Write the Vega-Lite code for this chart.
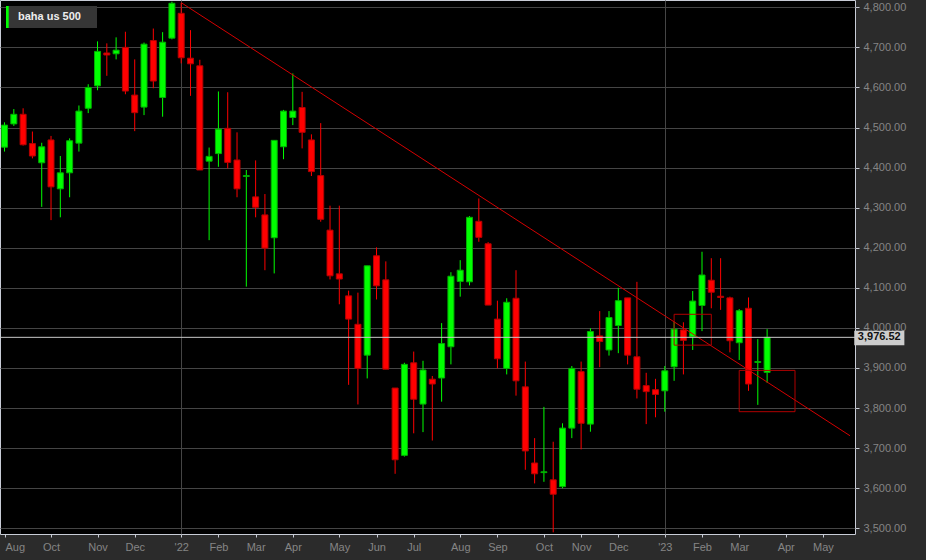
{
  "$schema": "https://vega.github.io/schema/vega-lite/v6.json",
  "width": 855,
  "height": 534,
  "autosize": {"type": "none"},
  "padding": {"left": 0, "top": 0, "right": 71, "bottom": 26},
  "background": "#2b2b2b",
  "config": {
    "view": {"fill": "#000000", "stroke": "#c8ccd6", "strokeWidth": 1},
    "axis": {"labelFont": "Liberation Sans", "labelFontSize": 11, "labelColor": "#858585", "tickColor": "#c8ccd6", "domain": false},
    "text": {"font": "Liberation Sans"}
  },
  "datasets": {
    "candles": [
      {"date": "2021-08-27", "open": 4451, "high": 4513, "low": 4440, "close": 4506},
      {"date": "2021-09-03", "open": 4509, "high": 4546, "low": 4504, "close": 4533},
      {"date": "2021-09-10", "open": 4533, "high": 4548, "low": 4455, "close": 4457},
      {"date": "2021-09-17", "open": 4460, "high": 4490, "low": 4423, "close": 4429},
      {"date": "2021-09-24", "open": 4412, "high": 4462, "low": 4302, "close": 4452},
      {"date": "2021-10-01", "open": 4469, "high": 4479, "low": 4269, "close": 4352},
      {"date": "2021-10-08", "open": 4347, "high": 4429, "low": 4276, "close": 4387},
      {"date": "2021-10-15", "open": 4387, "high": 4473, "low": 4326, "close": 4467},
      {"date": "2021-10-22", "open": 4461, "high": 4555, "low": 4440, "close": 4541},
      {"date": "2021-10-29", "open": 4548, "high": 4608, "low": 4536, "close": 4600},
      {"date": "2021-11-05", "open": 4604, "high": 4715, "low": 4593, "close": 4690},
      {"date": "2021-11-12", "open": 4686, "high": 4710, "low": 4629, "close": 4681},
      {"date": "2021-11-19", "open": 4684, "high": 4725, "low": 4670, "close": 4693},
      {"date": "2021-11-26", "open": 4700, "high": 4739, "low": 4583, "close": 4591},
      {"date": "2021-12-03", "open": 4581, "high": 4670, "low": 4491, "close": 4537},
      {"date": "2021-12-10", "open": 4551, "high": 4712, "low": 4531, "close": 4708},
      {"date": "2021-12-17", "open": 4717, "high": 4747, "low": 4598, "close": 4616},
      {"date": "2021-12-24", "open": 4575, "high": 4738, "low": 4527, "close": 4713},
      {"date": "2021-12-31", "open": 4723, "high": 4814, "low": 4720, "close": 4810},
      {"date": "2022-01-07", "open": 4785, "high": 4811, "low": 4660, "close": 4674},
      {"date": "2022-01-14", "open": 4673, "high": 4743, "low": 4579, "close": 4659},
      {"date": "2022-01-21", "open": 4654, "high": 4669, "low": 4394, "close": 4394},
      {"date": "2022-01-28", "open": 4416, "high": 4450, "low": 4219, "close": 4428},
      {"date": "2022-02-04", "open": 4435, "high": 4590, "low": 4402, "close": 4496},
      {"date": "2022-02-11", "open": 4498, "high": 4588, "low": 4398, "close": 4413},
      {"date": "2022-02-18", "open": 4419, "high": 4488, "low": 4326, "close": 4347},
      {"date": "2022-02-25", "open": 4378, "high": 4394, "low": 4103, "close": 4380},
      {"date": "2022-03-04", "open": 4327, "high": 4418, "low": 4276, "close": 4301},
      {"date": "2022-03-11", "open": 4282, "high": 4334, "low": 4144, "close": 4199},
      {"date": "2022-03-18", "open": 4225, "high": 4468, "low": 4136, "close": 4468},
      {"date": "2022-03-25", "open": 4452, "high": 4544, "low": 4421, "close": 4541},
      {"date": "2022-04-01", "open": 4525, "high": 4635, "low": 4506, "close": 4541},
      {"date": "2022-04-08", "open": 4550, "high": 4589, "low": 4448, "close": 4488},
      {"date": "2022-04-15", "open": 4469, "high": 4483, "low": 4379, "close": 4390},
      {"date": "2022-04-22", "open": 4380, "high": 4511, "low": 4265, "close": 4271},
      {"date": "2022-04-29", "open": 4244, "high": 4305, "low": 4121, "close": 4130},
      {"date": "2022-05-06", "open": 4135, "high": 4305, "low": 4059, "close": 4122},
      {"date": "2022-05-13", "open": 4080, "high": 4093, "low": 3858, "close": 4022},
      {"date": "2022-05-20", "open": 4009, "high": 4088, "low": 3809, "close": 3899},
      {"date": "2022-05-27", "open": 3932, "high": 4155, "low": 3874, "close": 4155},
      {"date": "2022-06-03", "open": 4180, "high": 4201, "low": 4071, "close": 4105},
      {"date": "2022-06-10", "open": 4120, "high": 4166, "low": 3897, "close": 3897},
      {"date": "2022-06-17", "open": 3850, "high": 3850, "low": 3636, "close": 3671},
      {"date": "2022-06-24", "open": 3682, "high": 3913, "low": 3679, "close": 3909},
      {"date": "2022-07-01", "open": 3913, "high": 3941, "low": 3737, "close": 3822},
      {"date": "2022-07-08", "open": 3810, "high": 3918, "low": 3740, "close": 3895},
      {"date": "2022-07-15", "open": 3872, "high": 3880, "low": 3719, "close": 3860},
      {"date": "2022-07-22", "open": 3875, "high": 4012, "low": 3816, "close": 3961},
      {"date": "2022-07-29", "open": 3953, "high": 4139, "low": 3909, "close": 4129},
      {"date": "2022-08-05", "open": 4116, "high": 4169, "low": 4078, "close": 4144},
      {"date": "2022-08-12", "open": 4115, "high": 4279, "low": 4106, "close": 4276},
      {"date": "2022-08-19", "open": 4266, "high": 4323, "low": 4215, "close": 4226},
      {"date": "2022-08-26", "open": 4210, "high": 4214, "low": 4057, "close": 4057},
      {"date": "2022-09-02", "open": 4022, "high": 4068, "low": 3899, "close": 3923},
      {"date": "2022-09-09", "open": 3899, "high": 4074, "low": 3884, "close": 4064},
      {"date": "2022-09-16", "open": 4074, "high": 4144, "low": 3831, "close": 3868},
      {"date": "2022-09-23", "open": 3853, "high": 3916, "low": 3646, "close": 3693},
      {"date": "2022-09-30", "open": 3663, "high": 3725, "low": 3612, "close": 3636},
      {"date": "2022-10-07", "open": 3639, "high": 3803, "low": 3616, "close": 3641},
      {"date": "2022-10-14", "open": 3621, "high": 3716, "low": 3490, "close": 3585},
      {"date": "2022-10-21", "open": 3604, "high": 3762, "low": 3600, "close": 3750},
      {"date": "2022-10-28", "open": 3750, "high": 3905, "low": 3725, "close": 3899},
      {"date": "2022-11-04", "open": 3891, "high": 3916, "low": 3697, "close": 3762},
      {"date": "2022-11-11", "open": 3760, "high": 3999, "low": 3741, "close": 3991},
      {"date": "2022-11-18", "open": 3980, "high": 4042, "low": 3902, "close": 3966},
      {"date": "2022-11-25", "open": 3945, "high": 4042, "low": 3931, "close": 4026},
      {"date": "2022-12-02", "open": 4006, "high": 4100, "low": 3937, "close": 4068},
      {"date": "2022-12-09", "open": 4075, "high": 4075, "low": 3909, "close": 3932},
      {"date": "2022-12-16", "open": 3928, "high": 4115, "low": 3824, "close": 3847},
      {"date": "2022-12-23", "open": 3856, "high": 3888, "low": 3760, "close": 3841},
      {"date": "2022-12-30", "open": 3846, "high": 3873, "low": 3777, "close": 3834},
      {"date": "2023-01-06", "open": 3843, "high": 3905, "low": 3791, "close": 3893},
      {"date": "2023-01-13", "open": 3903, "high": 4016, "low": 3868, "close": 3997},
      {"date": "2023-01-20", "open": 3995, "high": 4014, "low": 3884, "close": 3969},
      {"date": "2023-01-27", "open": 3978, "high": 4092, "low": 3945, "close": 4067},
      {"date": "2023-02-03", "open": 4056, "high": 4190, "low": 3992, "close": 4132},
      {"date": "2023-02-10", "open": 4119, "high": 4174, "low": 4049, "close": 4089},
      {"date": "2023-02-17", "open": 4079, "high": 4174, "low": 4045, "close": 4076},
      {"date": "2023-02-24", "open": 4075, "high": 4078, "low": 3939, "close": 3968},
      {"date": "2023-03-03", "open": 3963, "high": 4047, "low": 3920, "close": 4043},
      {"date": "2023-03-10", "open": 4049, "high": 4076, "low": 3843, "close": 3860},
      {"date": "2023-03-17", "open": 3914, "high": 3972, "low": 3808, "close": 3916},
      {"date": "2023-03-24", "open": 3889, "high": 3997, "low": 3863, "close": 3976.52}
    ],
    "trend": [
      {"date": "2022-01-07", "value": 4811.5},
      {"date": "2023-05-25T09:22:00Z", "value": 3731}
    ],
    "boxes": [
      {"start": "2023-01-13", "end": "2023-02-10", "top": 4034, "bottom": 3957},
      {"start": "2023-03-03", "end": "2023-04-14", "top": 3894, "bottom": 3791}
    ]
  },
  "layer": [
    {
      "data": {"values": [{"series": "baha us 500"}]},
      "mark": {"type": "point", "filled": true, "opacity": 0},
      "encoding": {
        "color": {
          "field": "series", "type": "nominal",
          "scale": {"range": ["#00ff00"]},
          "legend": {
            "title": null, "orient": "top-left", "offset": 6, "padding": 0,
            "fillColor": "#363636",
            "symbolType": "M-1,-1H-0.755V1H-1Z M7.27,0L7.27,0.01",
            "symbolSize": 484, "symbolStrokeWidth": 0, "symbolOpacity": 1,
            "labelColor": "#eeeeee", "labelFont": "Liberation Sans", "labelFontSize": 11,
            "labelFontWeight": "bold", "labelOffset": -10
          }
        }
      }
    },
    {
      "data": {"name": "candles"},
      "mark": {"type": "rule", "strokeWidth": 1},
      "encoding": {
        "x": {
          "field": "date", "type": "temporal",
          "scale": {"type": "utc", "nice": false, "domain": [
            {"year": 2021, "month": 8, "date": 27, "hours": 8, "minutes": 40, "utc": true},
            {"year": 2023, "month": 5, "date": 25, "hours": 9, "minutes": 22, "utc": true}]},
          "axis": {
            "orient": "bottom", "title": null,
            "values": [
              {"year": 2021, "month": 8, "date": 27, "hours": 8, "minutes": 40, "utc": true},
              {"year": 2021, "month": 10, "date": 1, "utc": true},
              {"year": 2021, "month": 11, "date": 5, "utc": true},
              {"year": 2021, "month": 12, "date": 3, "utc": true},
              {"year": 2022, "month": 1, "date": 7, "utc": true},
              {"year": 2022, "month": 2, "date": 4, "utc": true},
              {"year": 2022, "month": 3, "date": 4, "utc": true},
              {"year": 2022, "month": 4, "date": 1, "utc": true},
              {"year": 2022, "month": 5, "date": 6, "utc": true},
              {"year": 2022, "month": 6, "date": 3, "utc": true},
              {"year": 2022, "month": 7, "date": 1, "utc": true},
              {"year": 2022, "month": 8, "date": 5, "utc": true},
              {"year": 2022, "month": 9, "date": 2, "utc": true},
              {"year": 2022, "month": 10, "date": 7, "utc": true},
              {"year": 2022, "month": 11, "date": 4, "utc": true},
              {"year": 2022, "month": 12, "date": 2, "utc": true},
              {"year": 2023, "month": 1, "date": 6, "utc": true},
              {"year": 2023, "month": 2, "date": 3, "utc": true},
              {"year": 2023, "month": 3, "date": 3, "utc": true},
              {"year": 2023, "month": 4, "date": 7, "utc": true},
              {"year": 2023, "month": 5, "date": 5, "utc": true}
            ],
            "labelExpr": "utcmonth(datum.value) === 0 ? \"'\" + utcFormat(datum.value, '%y') : utcFormat(datum.value, '%b')",
            "labelFlush": false,
            "labelAlign": {"condition": {"test": "utcyear(datum.value) === 2021 && utcmonth(datum.value) === 7", "value": "left"}, "value": "center"},
            "labelOverlap": false, "labelPadding": 4,
            "tickSize": 3,
            "grid": true,
            "gridColor": {"condition": {"test": "utcmonth(datum.value) === 0", "value": "#454545"}, "value": "rgba(0,0,0,0)"}
          }
        },
        "y": {
          "field": "low", "type": "quantitative",
          "scale": {"domain": [3485.8, 4818.2], "nice": false, "zero": false},
          "axis": {
            "orient": "right", "title": null,
            "values": [3500, 3600, 3700, 3800, 3900, 4000, 4100, 4200, 4300, 4400, 4500, 4600, 4700, 4800],
            "format": ",.2f", "labelPadding": 4, "tickSize": 4,
            "grid": true, "gridColor": "#454545"
          }
        },
        "y2": {"field": "high"},
        "color": {"condition": {"test": "datum.close >= datum.open", "value": "#00ff00"}, "value": "#ff0000"}
      }
    },
    {
      "data": {"name": "candles"},
      "mark": {"type": "bar", "size": 6, "strokeWidth": 1},
      "encoding": {
        "x": {"field": "date", "type": "temporal"},
        "y": {"field": "open", "type": "quantitative"},
        "y2": {"field": "close"},
        "fill": {"condition": {"test": "datum.close >= datum.open", "value": "#00ff00"}, "value": "#ff0000"},
        "stroke": {"condition": {"test": "datum.close >= datum.open", "value": "#00b000"}, "value": "#b40000"}
      }
    },
    {
      "data": {"name": "trend"},
      "mark": {"type": "line", "color": "#d40000", "strokeWidth": 1},
      "encoding": {
        "x": {"field": "date", "type": "temporal"},
        "y": {"field": "value", "type": "quantitative"}
      }
    },
    {
      "data": {"name": "boxes"},
      "mark": {"type": "rect", "fillOpacity": 0, "stroke": "#b00000", "strokeWidth": 1},
      "encoding": {
        "x": {"field": "start", "type": "temporal"},
        "x2": {"field": "end"},
        "y": {"field": "top", "type": "quantitative"},
        "y2": {"field": "bottom"}
      }
    },
    {
      "data": {"values": [{}]},
      "mark": {"type": "rule", "color": "#c8c8c8", "strokeWidth": 1},
      "encoding": {
        "y": {"datum": 3976.52, "type": "quantitative"}
      }
    },
    {
      "data": {"values": [{}]},
      "mark": {"type": "rect", "fill": "#cdcdcd"},
      "encoding": {
        "x": {"datum": {"year": 2023, "month": 5, "date": 28, "hours": 14, "minutes": 24, "utc": true}, "type": "temporal"},
        "x2": {"datum": {"year": 2023, "month": 7, "date": 5, "hours": 7, "minutes": 27, "utc": true}},
        "y": {"datum": 3993, "type": "quantitative"},
        "y2": {"datum": 3956.6}
      }
    },
    {
      "data": {"values": [{}]},
      "mark": {"type": "text", "fontWeight": "bold", "fontSize": 11, "color": "#111111", "align": "center", "baseline": "middle"},
      "encoding": {
        "x": {"datum": {"year": 2023, "month": 6, "date": 16, "hours": 9, "minutes": 50, "utc": true}, "type": "temporal"},
        "y": {"datum": 3976.52, "type": "quantitative"},
        "text": {"value": "3,976.52"}
      }
    }
  ]
}
